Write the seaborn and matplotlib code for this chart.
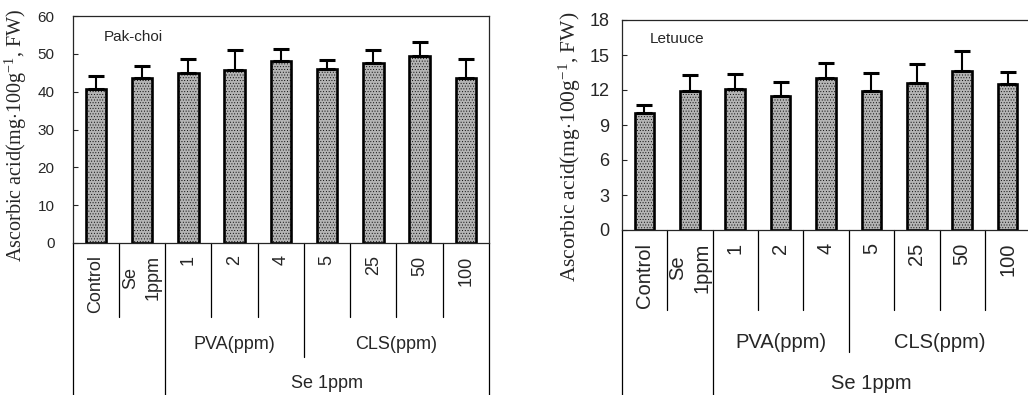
import matplotlib
matplotlib.use("Agg")
import matplotlib.pyplot as plt
import seaborn as sns
import pandas as pd

# ---------------- data ----------------
categories = ["Control", "Se\n1ppm", "1", "2", "4", "5", "25", "50", "100"]
pakchoi_values = [40.6, 43.7, 45.0, 45.8, 48.0, 46.0, 47.5, 49.4, 43.7]
pakchoi_errors = [3.6, 3.0, 3.7, 5.1, 3.4, 2.3, 3.4, 3.6, 5.0]
lettuce_values = [10.0, 11.9, 12.1, 11.5, 13.0, 11.9, 12.6, 13.6, 12.5]
lettuce_errors = [0.75, 1.4, 1.3, 1.15, 1.3, 1.55, 1.6, 1.75, 1.05]
pakchoi_yticks = [0, 10, 20, 30, 40, 50, 60]
lettuce_yticks = [0, 3, 6, 9, 12, 15, 18]
group_labels = ["PVA(ppm)", "CLS(ppm)", "Se 1ppm"]
panel_titles = ["Pak-choi", "Letuuce"]
ylabel = r"Ascorbic acid(mg$\cdot$100g$^{-1}$, FW)"

sns.set_style("ticks")
plt.rcParams["font.family"] = ["Liberation Sans", "DejaVu Sans"]
plt.rcParams["mathtext.fontset"] = "custom"
plt.rcParams["mathtext.rm"] = "Liberation Serif"
plt.rcParams["mathtext.it"] = "Liberation Serif:italic"
plt.rcParams["hatch.linewidth"] = 0.35

W, H = 1028, 395
fig = plt.figure(figsize=(W / 100, H / 100), dpi=100)


def make_panel(rect, values, errors, yticks, title, tick_fs, cat_fs, pad,
               short_d, mid_d, long_d, lab_y, grp_y, se_y, title_xy, bar_w):
    ax = fig.add_axes(rect)
    df = pd.DataFrame({"cat": categories, "val": values})
    sns.barplot(data=df, x="cat", y="val", ax=ax, color="#b4b4b4",
                saturation=1, edgecolor="black", linewidth=1.9,
                width=bar_w, errorbar=None, zorder=2, hatch="......")
    ax.errorbar(range(len(values)), values,
                yerr=[[0] * len(errors), errors], fmt="none",
                ecolor="black", elinewidth=1.5, capsize=5.5, capthick=2.2,
                zorder=3)
    ax.set_xlim(-0.5, len(categories) - 0.5)
    ax.set_ylim(yticks[0], yticks[-1])
    ax.set_yticks(yticks)
    ax.set_yticklabels([str(t) for t in yticks], fontsize=tick_fs)
    ax.tick_params(axis="y", direction="in", length=3.5, width=0.8, pad=pad)
    ax.tick_params(axis="x", length=0, pad=0)
    ax.set_xticks(range(len(categories)))
    ax.set_xticklabels([])
    ax.set_xlabel("")
    ax.set_ylabel("")
    for s in ax.spines.values():
        s.set_linewidth(0.9)
        s.set_visible(True)
    tr = ax.get_xaxis_transform()
    # category labels
    for i, c in enumerate(categories):
        ax.text(i, lab_y, c, transform=tr, rotation=90, ha="center",
                va="top", fontsize=cat_fs, multialignment="center",
                linespacing=1.4)
    # table lines
    n = len(categories)
    for k in range(n + 1):
        xb = k - 0.5
        if k in (0, 2, n):
            d = long_d
        elif k == 5:
            d = mid_d
        else:
            d = short_d
        ax.plot([xb, xb], [0, d], transform=tr, color="black", lw=0.9,
                clip_on=False)
    ax.text(3, grp_y, group_labels[0], transform=tr, ha="center",
            va="center", fontsize=cat_fs)
    ax.text(6.5, grp_y, group_labels[1], transform=tr, ha="center",
            va="center", fontsize=cat_fs)
    ax.text(5, se_y, group_labels[2], transform=tr, ha="center",
            va="center", fontsize=cat_fs)
    ax.text(title_xy[0], title_xy[1], title, transform=ax.transAxes,
            ha="left", va="center", fontsize=11)
    return ax


ax1 = make_panel([72.7 / W, (H - 243) / H, 416.3 / W, 227 / H],
                 pakchoi_values, pakchoi_errors, pakchoi_yticks,
                 panel_titles[0], 11, 13, 13,
                 -0.326, -0.50, -0.75, -0.055, -0.449, -0.62,
                 (0.075, 0.907), 0.44)
ax2 = make_panel([621.7 / W, (H - 230) / H, 408.6 / W, 210 / H],
                 lettuce_values, lettuce_errors, lettuce_yticks,
                 panel_titles[1], 13, 14.5, 9,
                 -0.381, -0.581, -0.85, -0.06, -0.538, -0.733,
                 (0.069, 0.91), 0.43)

fig.text(15.5 / W, 1 - 135 / H, ylabel, rotation=90, ha="center",
         va="center", fontsize=14.5, family="Liberation Serif")
fig.text(570 / W, 1 - 146.5 / H, ylabel, rotation=90, ha="center",
         va="center", fontsize=15.5, family="Liberation Serif")

fig.savefig("out.png", dpi=100)
